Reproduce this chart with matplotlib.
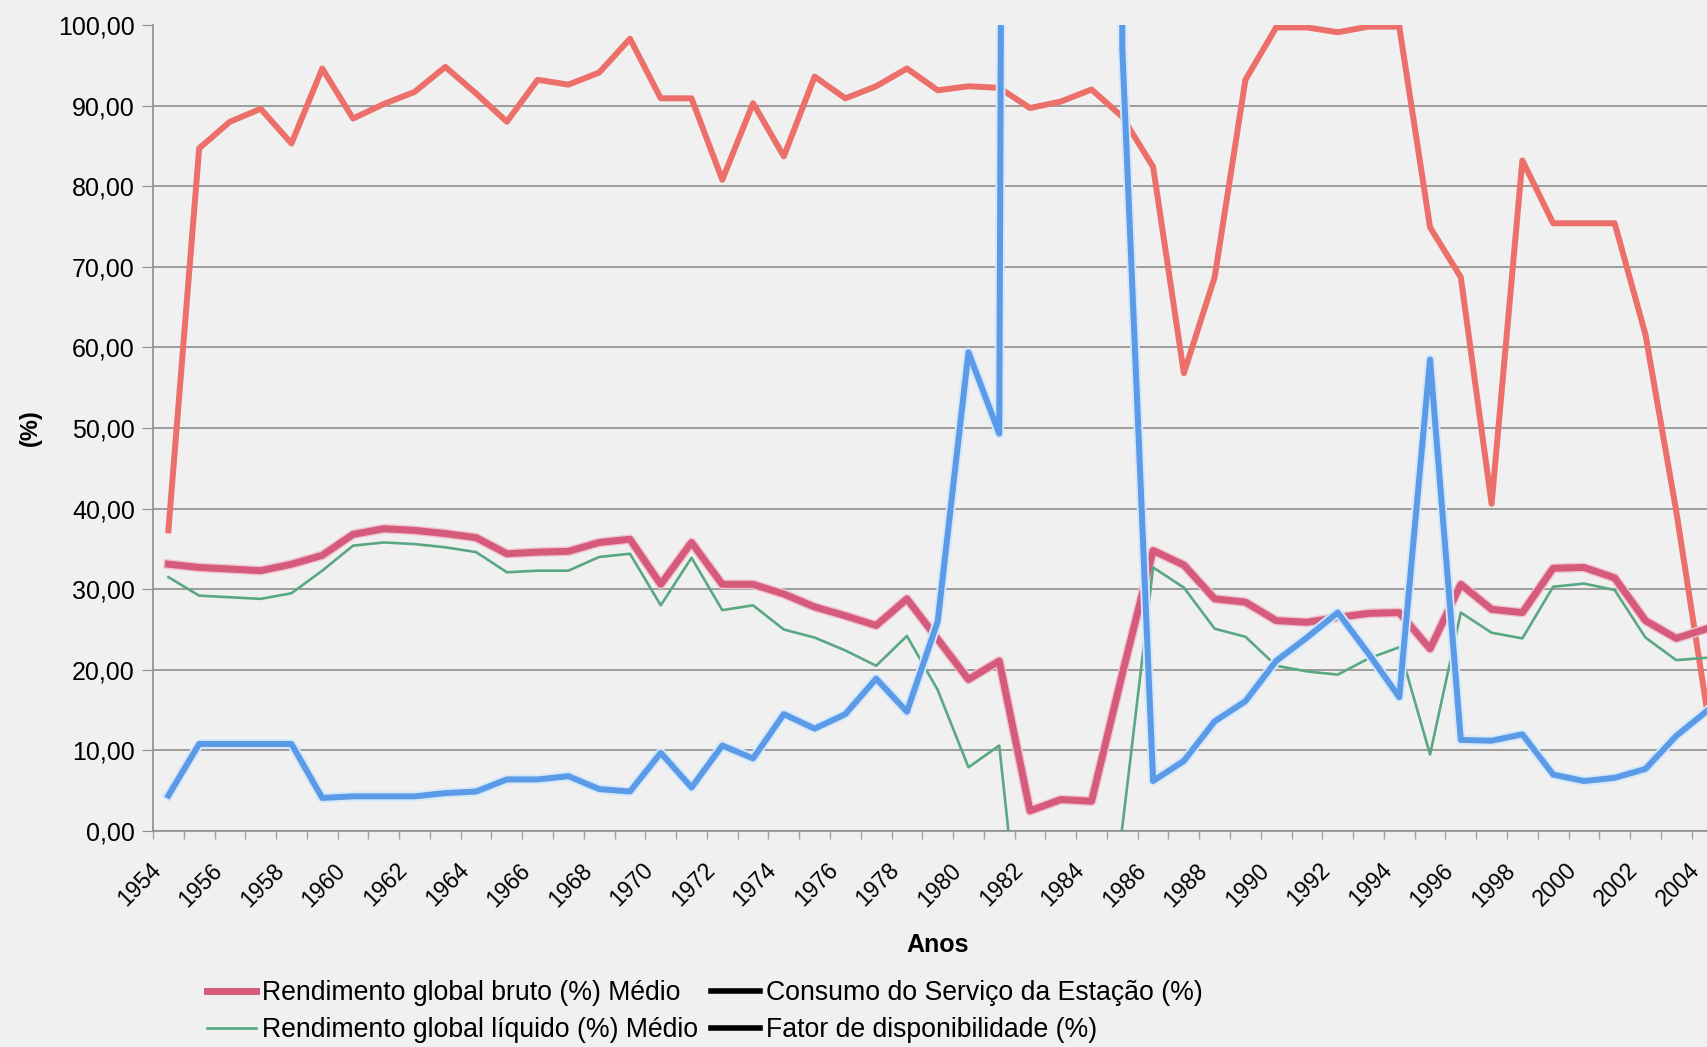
import matplotlib
matplotlib.use("Agg")
import matplotlib.pyplot as plt
import matplotlib.transforms as mtransforms
from matplotlib.lines import Line2D
from matplotlib.ticker import FuncFormatter, FixedLocator
import matplotlib.patheffects as pe

plt.rcParams['font.family'] = ['Liberation Sans', 'DejaVu Sans']

anos = list(range(1954, 2005))

# Fator de disponibilidade (%)
fator = [37.3, 84.7, 88.0, 89.6, 85.3, 94.6, 88.4, 90.2, 91.7, 94.8,
         91.5, 88.0, 93.2, 92.6, 94.1, 98.3, 90.9, 90.9, 80.8, 90.3,
         83.7, 93.6, 90.9, 92.4, 94.6, 91.9, 92.4, 92.2, 89.7, 90.5,
         92.0, 88.6, 82.4, 56.8, 68.7, 93.2, 99.7, 99.7, 99.1, 99.8,
         99.8, 74.9, 68.7, 40.6, 83.2, 75.4, 75.4, 75.4, 61.6, 39.7,
         15.0]

# Rendimento global bruto (%) Médio
bruto = [33.1, 32.7, 32.5, 32.3, 33.1, 34.2, 36.8, 37.5, 37.3, 36.9,
         36.4, 34.4, 34.6, 34.7, 35.8, 36.2, 30.6, 35.8, 30.6, 30.6,
         29.4, 27.8, 26.7, 25.5, 28.8, 23.8, 18.8, 21.1, 2.5, 3.9,
         3.7, 19.5, 34.8, 33.0, 28.8, 28.4, 26.1, 25.9, 26.5, 27.0,
         27.1, 22.6, 30.6, 27.5, 27.1, 32.6, 32.7, 31.4, 26.1, 23.9,
         25.1]

# Rendimento global liquido (%) Medio (1982-1984 below the axis)
liquido = [31.5, 29.2, 29.0, 28.8, 29.5, 32.3, 35.4, 35.8, 35.6, 35.2,
           34.6, 32.1, 32.3, 32.3, 34.0, 34.4, 28.0, 33.9, 27.4, 28.0,
           25.0, 24.0, 22.4, 20.5, 24.2, 17.5, 7.9, 10.6, -25.0, -25.0,
           -25.0, 0.5, 32.7, 30.2, 25.1, 24.1, 20.5, 19.8, 19.4, 21.4,
           22.8, 9.5, 27.1, 24.6, 23.9, 30.3, 30.7, 29.9, 24.0, 21.2,
           21.5]

# Consumo do Servico da Estacao (%) (1982-1984 above the axis)
consumo = [4.4, 10.8, 10.8, 10.8, 10.8, 4.1, 4.3, 4.3, 4.3, 4.7,
           4.9, 6.4, 6.4, 6.8, 5.2, 4.9, 9.7, 5.4, 10.6, 9.0,
           14.5, 12.7, 14.5, 18.9, 14.8, 26.0, 59.4, 49.3, 1000.0, 1000.0,
           1000.0, 97.0, 6.2, 8.7, 13.6, 16.1, 21.1, 24.0, 27.1, 22.0,
           16.6, 58.5, 11.3, 11.2, 12.0, 7.0, 6.2, 6.6, 7.7, 11.8,
           14.9]

legenda = ['Rendimento global bruto (%) Médio',
           'Rendimento global líquido (%) Médio',
           'Consumo do Serviço da Estação (%)',
           'Fator de disponibilidade (%)']

bg = '#f0f0f0'
c_fator = '#ec6f69'
c_bruto = '#d65a7c'
c_liq = '#5aa783'
c_cons = '#5b9ae6'
c_grid = '#8e8e8e'

fig = plt.figure(figsize=(17.07, 10.47), dpi=100, facecolor=bg)
ax = fig.add_axes([153/1707, 1 - 831/1047, 1 - 153/1707, (831 - 25)/1047])
ax.set_facecolor(bg)

ax.plot(anos, fator, color=c_fator, lw=4.3, zorder=3)
ax.plot(anos, bruto, color=c_bruto, lw=5.0, zorder=4,
        path_effects=[pe.Stroke(linewidth=7, foreground='#efc3cf'), pe.Normal()])
ax.plot(anos, liquido, color=c_liq, lw=1.9, zorder=5)
ax.plot(anos, consumo, color=c_cons, lw=4.3, zorder=6,
        path_effects=[pe.Stroke(linewidth=7, foreground='#d4e8fb'), pe.Normal()])

ax.set_xlim(1953.5, 2004.0)
ax.set_ylim(0, 100)

ax.set_yticks(range(0, 101, 10))
ax.yaxis.set_major_formatter(FuncFormatter(lambda v, p: f'{v:.2f}'.replace('.', ',')))
ax.grid(axis='y', color=c_grid, lw=1.2)
ax.set_axisbelow(True)
ax.get_ygridlines()[-1].set_visible(False)

ax.xaxis.set_major_locator(FixedLocator(anos[::2]))
ax.xaxis.set_minor_locator(FixedLocator([a - 0.5 for a in anos]))
ax.set_xticklabels([str(a) for a in anos[::2]])
ax.tick_params(axis='x', which='major', length=0, labelsize=16.5, pad=20)
ax.tick_params(axis='x', which='minor', length=6, color='#a0a0a0', width=1)
ax.tick_params(axis='y', length=8, color=c_grid, labelsize=18, pad=5)

off = mtransforms.ScaledTranslation(-19/100, 0, fig.dpi_scale_trans)
for lbl in ax.get_xticklabels():
    lbl.set_rotation(45)
    lbl.set_ha('right')
    lbl.set_va('top')
    lbl.set_rotation_mode('anchor')
    lbl.set_transform(lbl.get_transform() + off)

for s in ['top', 'right']:
    ax.spines[s].set_visible(False)
for s in ['left', 'bottom']:
    ax.spines[s].set_color(c_grid)
    ax.spines[s].set_linewidth(1.2)

fig.text(938/1707, 1 - 945/1047, 'Anos', ha='center', va='center',
         fontsize=18, fontweight='bold')
fig.text(30/1707, 1 - 428/1047, '(%)', ha='center', va='center',
         rotation=90, fontsize=17, fontweight='bold')

handles = [Line2D([], [], color=c_bruto, lw=5),
           Line2D([], [], color=c_liq, lw=1.9),
           Line2D([], [], color='black', lw=4),
           Line2D([], [], color='black', lw=4)]
fig.legend(handles, legenda, ncol=2, loc='upper left',
           bbox_to_anchor=(207/1707, 1 - 980/1047), frameon=False,
           fontsize=19.2, handlelength=1.85, handletextpad=0.2,
           columnspacing=0.5, labelspacing=0.42, borderaxespad=0,
           borderpad=0)

fig.savefig('out.png', dpi=100, facecolor=bg)
